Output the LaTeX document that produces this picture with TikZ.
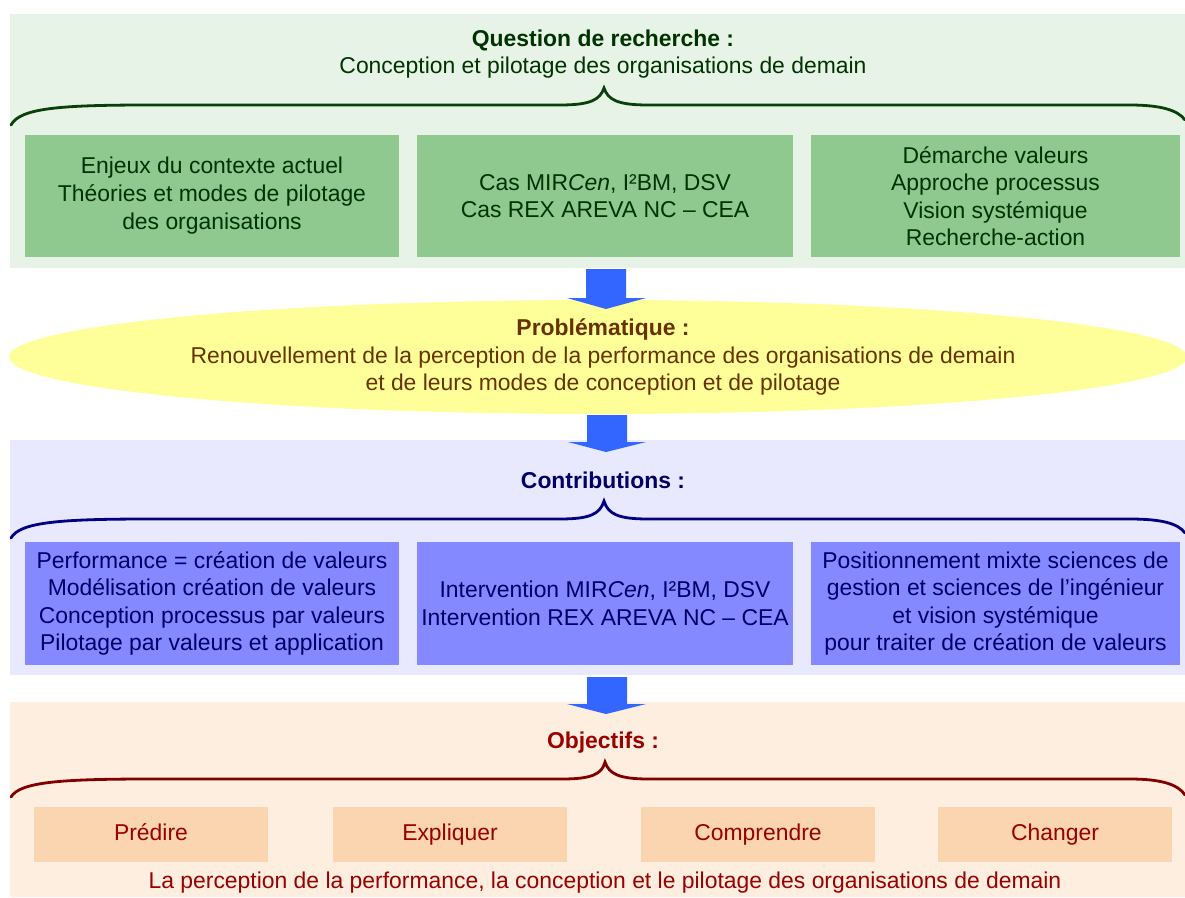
\documentclass[tikz,border=0pt]{standalone}
\usepackage{fontspec}
\setmainfont{Liberation Sans}
\usetikzlibrary{shapes.geometric}
\definecolor{gOut}{HTML}{E6F3E6}
\definecolor{gIn}{HTML}{8FC98F}
\definecolor{gTxt}{HTML}{003300}
\definecolor{gBr}{HTML}{0A400A}
\definecolor{yFill}{HTML}{FFFF99}
\definecolor{yTxt}{HTML}{663300}
\definecolor{bOut}{HTML}{E8E8FF}
\definecolor{bIn}{HTML}{8489FF}
\definecolor{bTxt}{HTML}{000066}
\definecolor{bBr}{HTML}{000080}
\definecolor{oOut}{HTML}{FDEEDF}
\definecolor{oIn}{HTML}{FBD5B0}
\definecolor{oTxt}{HTML}{990000}
\definecolor{oBr}{HTML}{800000}
\definecolor{arr}{HTML}{3366FF}
\tikzset{
  region/.style={draw=none, inner sep=0pt, anchor=north west},
  txt/.style={align=center, inner sep=0pt, font=\fontsize{22.9}{27.5}\selectfont},
  gbox/.style={txt, fill=gIn, text=gTxt, minimum height=122pt},
  bbox/.style={txt, fill=bIn, text=bTxt, minimum height=123pt},
  obox/.style={txt, fill=oIn, text=oTxt, minimum height=55pt, minimum width=234pt, text height=16pt, text depth=5pt},
  brace/.style={line width=2.8pt, line cap=round},
  blockarrow/.style={fill=arr, draw=none}
}
\begin{document}
\begin{tikzpicture}[x=1pt,y=-1pt]
\useasboundingbox (0,0) rectangle (1185,897);
% regions
\node[region, fill=gOut, minimum width=1175pt, minimum height=254pt] (greg) at (10,14) {};
\node[region, fill=bOut, minimum width=1175pt, minimum height=235pt] (breg) at (10,440) {};
\node[region, fill=oOut, minimum width=1175pt, minimum height=195pt] (oreg) at (10,702) {};

% green part
\node[txt, text=gTxt] (qtitle) at (603,54) {\textbf{Question de recherche :}\\Conception et pilotage des organisations de demain};
\draw[brace, gBr] (11,125) .. controls (20,108) and (60,105) .. (150,105) -- (560,105)
   .. controls (590,105) and (600,100) .. (604,88) .. controls (608,100) and (618,105) .. (648,105)
   -- (1130,105) .. controls (1160,105) and (1178,110) .. (1185,120);
\node[gbox, minimum width=374pt, font=\fontsize{22.9}{28}\selectfont] (g1) at (212,196) {Enjeux du contexte actuel\\Théories et modes de pilotage\\des organisations};
\node[gbox, minimum width=376pt] (g2) at (605,196) {Cas MIR\textit{Cen}, I²BM, DSV\\Cas REX AREVA NC – CEA};
\node[gbox, minimum width=369pt] (g3) at (995.5,196) {Démarche valeurs\\Approche processus\\Vision systémique\\Recherche-action};

% ellipse
\node[ellipse, fill=yFill, inner sep=0pt, minimum width=1178pt, minimum height=114pt] (prob) at (598,357) {};
\node[txt, text=yTxt] (probtxt) at (603,357) {\textbf{Problématique :}\\Renouvellement de la perception de la performance des organisations de demain\\et de leurs modes de conception et de pilotage};

% blue part
\node[txt, text=bTxt] (ctitle) at (603,480) {\textbf{Contributions :}};
\draw[brace, bBr] (11,538) .. controls (20,522) and (60,519) .. (150,519) -- (560,519)
   .. controls (590,519) and (600,514) .. (604,501) .. controls (608,514) and (618,519) .. (648,519)
   -- (1130,519) .. controls (1160,519) and (1178,523) .. (1185,533);
\node[bbox, minimum width=374pt] (b1) at (212,603.5) {Performance = création de valeurs\\Modélisation création de valeurs\\Conception processus par valeurs\\Pilotage par valeurs et application};
\node[bbox, minimum width=376pt] (b2) at (605,603.5) {Intervention MIR\textit{Cen}, I²BM, DSV\\Intervention REX AREVA NC – CEA};
\node[bbox, minimum width=369pt] (b3) at (995.5,603.5) {Positionnement mixte sciences de\\gestion et sciences de l’ingénieur\\et vision systémique\\pour traiter de création de valeurs};

% orange part
\node[txt, text=oTxt] (otitle) at (603,743) {\textbf{Objectifs :}};
\draw[brace, oBr] (11,797) .. controls (20,782) and (60,779) .. (150,779) -- (562,779)
   .. controls (592,779) and (602,774) .. (605,762) .. controls (609,774) and (619,779) .. (649,779)
   -- (1130,779) .. controls (1160,779) and (1178,784) .. (1185,795);
\node[obox] (o1) at (151,834.5) {Prédire};
\node[obox] (o2) at (450,834.5) {Expliquer};
\node[obox] (o3) at (758,834.5) {Comprendre};
\node[obox] (o4) at (1055,834.5) {Changer};
\node[txt, text=oTxt] (obottom) at (605,883) {La perception de la performance, la conception et le pilotage des organisations de demain};

% block arrows
\fill[blockarrow] (586,269) -- (626,269) -- (626,298) -- (646,298) -- (606,309) -- (567,298) -- (586,298) -- cycle;
\fill[blockarrow] (587,415) -- (627,415) -- (627,442) -- (646,442) -- (606,452) -- (568,442) -- (587,442) -- cycle;
\fill[blockarrow] (587,677) -- (627,677) -- (627,704) -- (646,704) -- (606,714) -- (567,704) -- (587,704) -- cycle;
\end{tikzpicture}
\end{document}
